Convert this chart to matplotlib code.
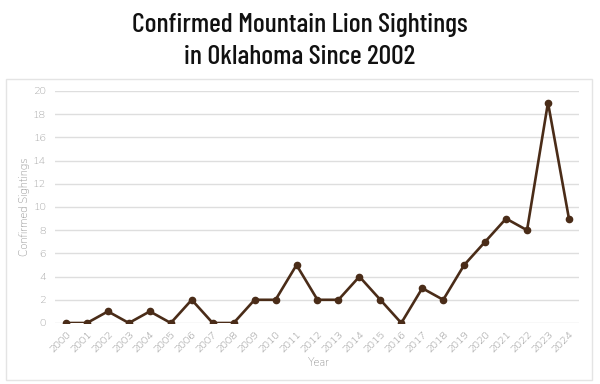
import matplotlib
matplotlib.use("Agg")
import matplotlib.pyplot as plt
from matplotlib.patches import Rectangle

years = [str(y) for y in range(2000, 2025)]
sightings = [0, 0, 1, 0, 1, 0, 2, 0, 0, 2, 2, 5, 2, 2, 4, 2, 0, 3, 2, 5, 7, 9, 8, 19, 9]
yticks = [0, 2, 4, 6, 8, 10, 12, 14, 16, 18, 20]

brown = "#4a2c18"
gray = "#8e8e8e"
title_font = ["Barlow Condensed", "DejaVu Sans"]
label_font = ["Nunito", "DejaVu Sans"]

fig = plt.figure(figsize=(6, 3.84), dpi=100)
fig.patch.set_facecolor("white")

# panel frame behind the chart
fig.patches.append(Rectangle((6 / 600, 4 / 384), 586 / 600, (380 - 79) / 384,
                             transform=fig.transFigure, fill=False,
                             edgecolor="#e4e4e4", linewidth=1))

fig.text(0.5, 1 - 25 / 384, "Confirmed Mountain Lion Sightings", ha="center", va="center",
         fontsize=20, family=title_font, fontweight="medium", color="#111111")
fig.text(0.5, 1 - 57 / 384, "in Oklahoma Since 2002", ha="center", va="center",
         fontsize=20, family=title_font, fontweight="medium", color="#111111")

ax = fig.add_axes([55 / 600, 61 / 384, (579 - 55) / 600, (323 - 91) / 384])
x = list(range(len(years)))
ax.plot(x, sightings, color=brown, linewidth=1.9, marker="o", markersize=4.5, zorder=3)

ax.set_xlim(-0.525, 24.48)
ax.set_ylim(0, 20)
ax.set_yticks(yticks)
ax.set_xticks(x)
ax.set_xticklabels(years, rotation=45, ha="right", rotation_mode="anchor")
ax.grid(axis="y", color="#dedede", linewidth=1)
ax.set_axisbelow(True)
for s in ax.spines.values():
    s.set_visible(False)
ax.tick_params(length=0, labelsize=7.8)
ax.tick_params(axis="x", pad=5, labelcolor=gray)
ax.tick_params(axis="y", pad=6.5, labelcolor="#a6a6a6")
for lab in ax.get_xticklabels() + ax.get_yticklabels():
    lab.set_family(label_font)

ax.set_ylabel("Confirmed Sightings", fontsize=8, color="#999999", family=label_font, va="center")
ax.yaxis.set_label_coords((25 - 55) / (579 - 55), 0.5)
ax.set_xlabel("Year", fontsize=8, color="#999999", family=label_font, va="center")
ax.xaxis.set_label_coords((319 - 55) / (579 - 55), -(363 - 323) / (323 - 91))

fig.savefig("out.png", dpi=100)
